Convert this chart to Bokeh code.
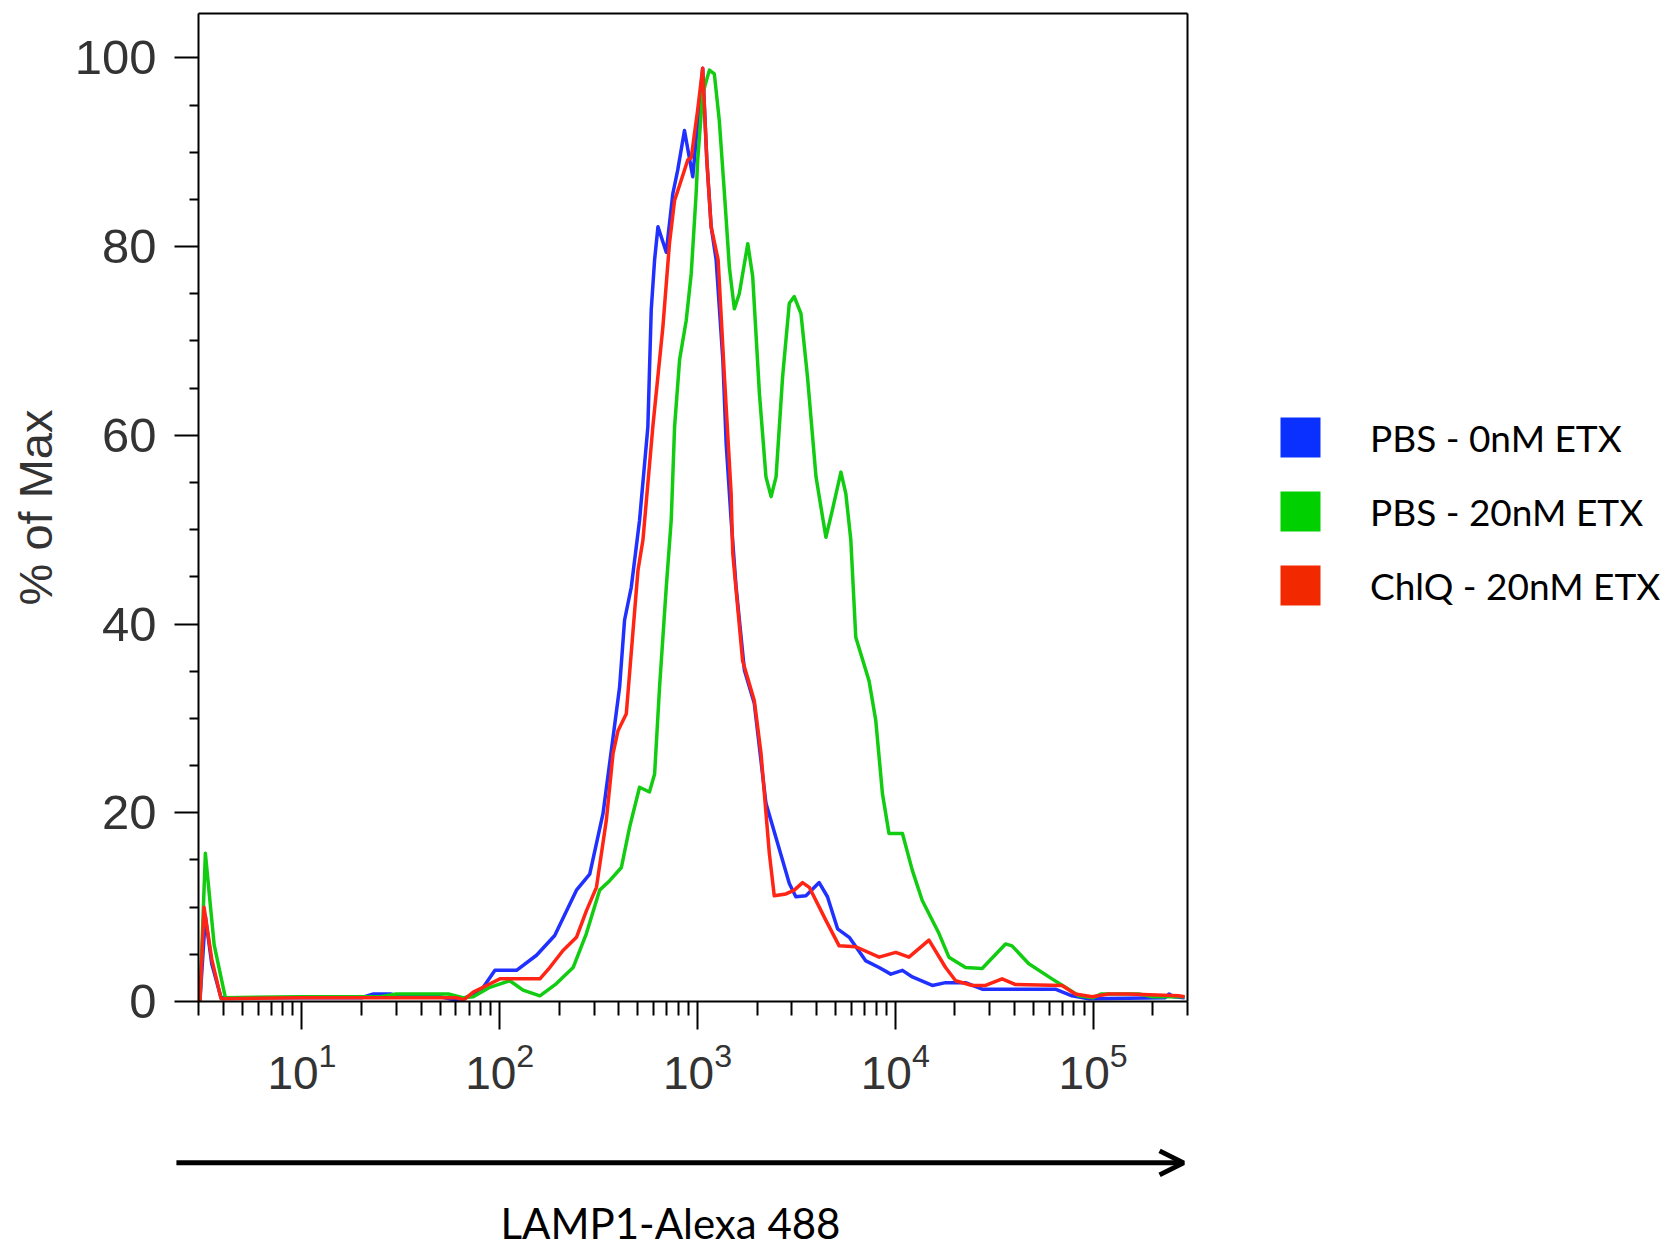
from bokeh.plotting import figure
from bokeh.models import (FixedTicker, Legend, LegendItem, Arrow, OpenHead, Label,
                          Range1d, LinearAxis)
from bokeh.embed import file_html
from bokeh.resources import INLINE

# ---------------- data ----------------
pbs0_x = [3.05, 3.25, 3.5, 3.9, 10, 20, 23, 28, 32, 50, 58, 66,
          73.5, 82.6, 94.6, 121.6, 153.5, 189.7, 244.3, 285.1, 332.7, 374.1, 403.6, 427.6,
          462.4, 509.3, 561, 583.4, 606.7, 631, 695, 750, 794, 859, 946, 1062,
          1114, 1172, 1242, 1343, 1396, 1479, 1567, 1726, 1936, 2218, 2489, 2911,
          3141, 3532, 4121, 4539, 5105, 5848, 7096, 8279, 9484, 10864, 12190, 15380,
          17950, 22650, 27480, 64420, 78160, 94840, 231200, 242000, 255000, 290000]
pbs0_y = [0, 9.0, 4.0, 0.4, 0.4, 0.4, 0.8, 0.8, 0.5, 0.5, 0.2, 0.3,
          0.8, 1.5, 3.3, 3.3, 4.9, 7.0, 11.8, 13.5, 19.9, 28.0, 33.3, 40.4,
          43.9, 51.0, 60.9, 73.3, 78.6, 82.1, 79.4, 85.6, 88.1, 92.3, 87.4, 98.9,
          89.2, 82.1, 78.6, 68.0, 59.1, 51.0, 43.9, 35.1, 31.6, 21.0, 17.4, 12.5,
          11.1, 11.2, 12.6, 11.1, 7.7, 6.8, 4.3, 3.6, 2.9, 3.3, 2.6, 1.7,
          2.0, 2.0, 1.3, 1.3, 0.6, 0.3, 0.4, 0.8, 0.5, 0.4]

pbs20_x = [3.05, 3.25, 3.6, 4.1, 10, 25, 30, 55, 65, 73.5, 89.1, 112.5,
           131.2, 159.6, 193.6, 235, 274.2, 319.9, 359.7, 412.1, 453.9, 509.3, 571.5, 606.7,
           642.7, 695, 736.2, 765.6, 811.5, 877, 929, 984, 1002, 1062, 1148, 1216,
           1288, 1368, 1449, 1535, 1626, 1795, 1901, 2056, 2218, 2355, 2495, 2692,
           2911, 3083, 3334, 3597, 3972, 4457, 4808, 5309, 5623, 5957, 6310, 7362,
           7962, 8610, 9290, 10864, 12190, 13680, 16630, 18660, 22650, 27480, 36060, 38900,
           47310, 61940, 72440, 84530, 100000, 110000, 170000, 200000, 290000]
pbs20_y = [0, 15.7, 6.0, 0.4, 0.5, 0.5, 0.8, 0.8, 0.4, 0.5, 1.5, 2.2,
           1.2, 0.6, 1.9, 3.6, 7.2, 11.8, 12.8, 14.2, 18.5, 22.7, 22.2, 24.1,
           33.3, 43.9, 51.0, 60.9, 68.0, 72.2, 77.1, 85.6, 89.2, 96.2, 98.7, 98.3,
           93.4, 85.6, 77.8, 73.4, 75.0, 80.3, 76.8, 64.4, 55.6, 53.5, 55.6, 66.2,
           74.0, 74.7, 72.9, 66.2, 55.6, 49.2, 52.1, 56.1, 53.8, 48.9, 38.6, 34.0,
           29.8, 22.0, 17.8, 17.8, 13.9, 10.7, 7.2, 4.7, 3.6, 3.5, 6.1, 5.9,
           4.0, 2.4, 1.5, 0.6, 0.4, 0.8, 0.8, 0.5, 0.5]

chlq_x = [3.05, 3.2, 3.5, 3.9, 10, 30, 60, 66, 73.5, 85.9, 100.2, 159.6,
          179.1, 208.9, 244.3, 274.2, 308.3, 345.9, 374.1, 396.3, 436.5, 472.1, 500, 529.7,
          594.3, 668.3, 721.1, 765.6, 811.5, 893.3, 929, 1002, 1062, 1114, 1172, 1271,
          1368, 1479, 1507, 1690, 1936, 2094, 2307, 2443, 2799, 3083, 3396, 3673,
          4457, 5200, 6310, 8279, 10050, 11720, 14790, 17950, 20180, 24490, 28580, 34670,
          40550, 69660, 81280, 98620, 119700, 150000, 270000, 290000]
chlq_y = [0, 10.0, 4.5, 0.3, 0.4, 0.4, 0.4, 0.2, 1.0, 1.7, 2.4, 2.4,
          3.6, 5.4, 6.8, 9.6, 12.1, 19.2, 26.3, 28.7, 30.5, 39.3, 45.7, 48.9,
          60.9, 71.5, 80.3, 84.9, 86.5, 89.2, 89.4, 94.5, 98.9, 89.2, 82.1, 78.6,
          66.2, 53.8, 47.5, 36.1, 31.9, 26.3, 15.7, 11.2, 11.4, 11.8, 12.6, 12.1,
          8.6, 5.9, 5.8, 4.7, 5.2, 4.7, 6.5, 3.6, 2.2, 1.7, 1.7, 2.4,
          1.8, 1.7, 0.8, 0.5, 0.8, 0.8, 0.6, 0.5]

legend_labels = ["PBS - 0nM ETX", "PBS - 20nM ETX", "ChlQ - 20nM ETX"]
line_colors = ["#1f30ff", "#12cc12", "#ff2414"]
square_colors = ["#0a30ff", "#00d000", "#f22800"]

x_major_ticks = [10, 100, 1000, 10000, 100000]
x_minor_ticks = [3, 4, 5, 6, 7, 8, 9,
                 20, 30, 40, 50, 60, 70, 80, 90,
                 200, 300, 400, 500, 600, 700, 800, 900,
                 2000, 3000, 4000, 5000, 6000, 7000, 8000, 9000,
                 20000, 30000, 40000, 50000, 60000, 70000, 80000, 90000,
                 200000, 300000]
y_major_ticks = [0, 20, 40, 60, 80, 100]
y_minor_ticks = [5, 10, 15, 25, 30, 35, 45, 50, 55, 65, 70, 75, 85, 90, 95]

x_title = "LAMP1-Alexa 488"
y_title = "% of Max"

X_RANGE = (3, 300000)      # histogram axis extent
Y_RANGE = (0, 104.7)

# ---------------- page geometry (pixels) ----------------
W, H = 1672, 1247
BOX_L, BOX_R, BOX_T, BOX_B = 198, 1187, 13, 1001   # histogram box inside the page

# The figure's frame fills the whole page; the histogram box is drawn with
# bounded axes so that the legend, arrow and title (outside the box) are not clipped.
decade_px = (BOX_R - BOX_L) / 5.0
x_lo = X_RANGE[0] / 10 ** (BOX_L / decade_px)
x_hi = X_RANGE[0] * 10 ** ((W - BOX_L) / decade_px)
unit_px = (BOX_B - BOX_T) / (Y_RANGE[1] - Y_RANGE[0])
y_hi = BOX_B / unit_px
y_lo = -(H - BOX_B) / unit_px

p = figure(width=W, height=H, x_axis_type="log",
           x_range=Range1d(x_lo, x_hi), y_range=Range1d(y_lo, y_hi),
           output_backend="svg", toolbar_location=None,
           min_border_left=0, min_border_right=0, min_border_top=0, min_border_bottom=0)
p.xgrid.visible = False
p.ygrid.visible = False
p.outline_line_color = None
p.background_fill_color = "white"
p.border_fill_color = "white"

xa = p.xaxis[0]
xa.fixed_location = Y_RANGE[0]
xa.bounds = X_RANGE
xa.ticker = FixedTicker(ticks=x_major_ticks, minor_ticks=x_minor_ticks)
xa.axis_line_width = 2
xa.axis_line_color = "black"
xa.major_tick_line_width = 2
xa.minor_tick_line_width = 2
xa.major_tick_out = 28
xa.major_tick_in = 0
xa.minor_tick_out = 14
xa.minor_tick_in = 0
xa.major_label_text_font = "Liberation Sans"
xa.major_label_text_font_size = "46px"
xa.major_label_text_color = "#333333"
xa.major_label_standoff = 12

ya = p.yaxis[0]
ya.fixed_location = X_RANGE[0]
ya.bounds = Y_RANGE
ya.ticker = FixedTicker(ticks=y_major_ticks, minor_ticks=y_minor_ticks)
ya.axis_line_width = 2
ya.axis_line_color = "black"
ya.major_tick_line_width = 2
ya.minor_tick_line_width = 2
ya.major_tick_out = 24
ya.major_tick_in = 0
ya.minor_tick_out = 9
ya.minor_tick_in = 0
ya.major_label_text_font = "Liberation Sans"
ya.major_label_text_font_size = "49px"
ya.major_label_text_color = "#333333"
ya.major_label_standoff = 18
ya.axis_label = y_title
ya.axis_label_text_font = "Liberation Sans"
ya.axis_label_text_font_size = "47px"
ya.axis_label_text_font_style = "normal"
ya.axis_label_text_color = "#333333"
ya.axis_label_standoff = 10

# top and right edges of the histogram box
def box_edge(loc, bounds):
    ax = LinearAxis(ticker=FixedTicker(ticks=[]), fixed_location=loc, bounds=bounds,
                    axis_line_width=2, axis_line_color="black",
                    major_tick_out=0, major_tick_in=0, minor_tick_out=0, minor_tick_in=0,
                    major_label_text_font_size="0px")
    return ax

p.add_layout(box_edge(Y_RANGE[1], X_RANGE), "above")
p.add_layout(box_edge(X_RANGE[1], Y_RANGE), "right")

# histogram lines
series = [(pbs0_x, pbs0_y), (pbs20_x, pbs20_y), (chlq_x, chlq_y)]
for (xs, ys), col in zip(series, line_colors):
    p.line(xs, ys, line_color=col, line_width=3.5, line_join="round")

# legend swatches: zero-size boxes at each series' first point (invisible on the plot)
swatches = [p.quad(left=xs[:1], right=xs[:1], top=ys[:1], bottom=ys[:1],
                   fill_color=c, line_color=None)
            for (xs, ys), c in zip(series, square_colors)]
legend = Legend(items=[LegendItem(label=lab, renderers=[r]) for lab, r in zip(legend_labels, swatches)],
                location=(1275, 637), glyph_width=50, glyph_height=50, spacing=24,
                padding=0, margin=0, label_standoff=45,
                label_text_font="Lato", label_text_font_size="37px", label_text_color="black",
                border_line_color=None, background_fill_alpha=0)
p.add_layout(legend)

# x-axis title with arrow
p.add_layout(Arrow(end=OpenHead(size=24, line_width=5, line_color="black"),
                   x_start=2.32, y_start=-17.1, x_end=286600, y_end=-17.1,
                   line_width=5, line_color="black"))
p.add_layout(Label(x=730, y=-23.5, text=x_title, text_align="center",
                   text_baseline="alphabetic", text_font="Lato",
                   text_font_size="42px", text_color="black"))

open("out.html", "w").write(file_html(p, INLINE))
